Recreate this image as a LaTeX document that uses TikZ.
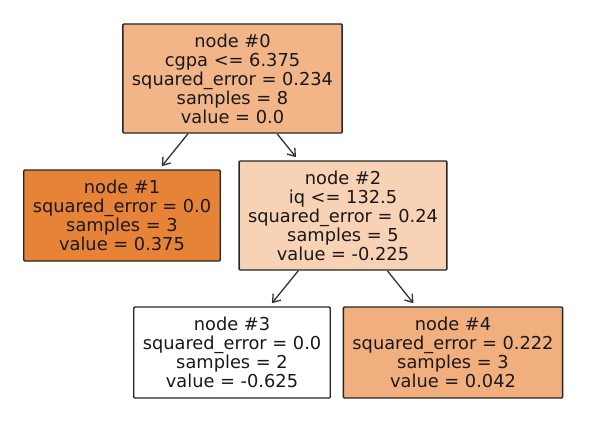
\documentclass[tikz,border=0pt]{standalone}
\usepackage{fontspec}
\setmainfont{DejaVu Sans}
\usepackage{xcolor}
\usepackage{tikz}
\usetikzlibrary{
  arrows.meta,
  positioning
}

\definecolor{fillroot}{RGB}{242,181,136}
\definecolor{fillleft}{RGB}{231,131,55}
\definecolor{fillmid}{RGB}{248,210,180}
\definecolor{fillright}{RGB}{241,175,126}

\begin{document}
\begin{tikzpicture}[
  x=1pt, y=-1pt,
  tnode/.style={
    draw=black!85, rounded corners=1pt, line width=1.4pt,
    font=\fontsize{17.8}{19}\selectfont, align=center,
    text=black!90, inner xsep=9pt, inner ysep=4pt
  },
  split/.style={tnode, minimum height=109pt},
  leaf/.style={tnode, minimum height=91pt},
  branch/.style={
    -{Straight Barb[length=7pt, width=10pt]},
    draw=black!80, line width=1.3pt, shorten >=4pt
  }
]
  \useasboundingbox (0,0) rectangle (593,420);

  \node[split, fill=fillroot] (n0) at (232.5, 78.5)
    {node \#0\\cgpa <= 6.375\\squared\_error = 0.234\\samples = 8\\value = 0.0};
  \node[leaf, fill=fillleft] (n1) at (122, 215.5)
    {node \#1\\squared\_error = 0.0\\samples = 3\\value = 0.375};
  \node[split, fill=fillmid] (n2) at (343, 215.5)
    {node \#2\\iq <= 132.5\\squared\_error = 0.24\\samples = 5\\value = -0.225};
  \node[leaf, fill=white] (n3) at (232, 352.5)
    {node \#3\\squared\_error = 0.0\\samples = 2\\value = -0.625};
  \node[leaf, fill=fillright] (n4) at (453, 352.5)
    {node \#4\\squared\_error = 0.222\\samples = 3\\value = 0.042};

  \draw[branch] (n0) -- (n1);
  \draw[branch] (n0) -- (n2);
  \draw[branch] (n2) -- (n3);
  \draw[branch] (n2) -- (n4);
\end{tikzpicture}
\end{document}
